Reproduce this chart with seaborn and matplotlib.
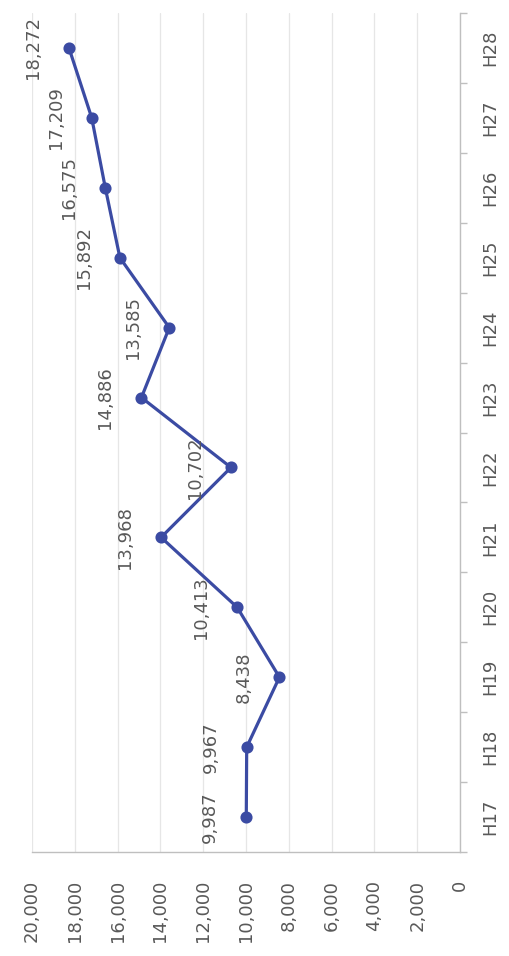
import numpy as np
import pandas as pd
import matplotlib
matplotlib.use("Agg")
import matplotlib.pyplot as plt
import seaborn as sns

years = ["H17", "H18", "H19", "H20", "H21", "H22", "H23", "H24", "H25", "H26", "H27", "H28"]
values = [9987, 9967, 8438, 10413, 13968, 10702, 14886, 13585, 15892, 16575, 17209, 18272]
value_ticks = list(range(0, 20001, 2000))

df = pd.DataFrame({"year": years, "value": values})

sns.set_theme(style="white")
plt.rcParams["font.family"] = ["DejaVu Sans"]

fig = plt.figure(figsize=(5.10, 9.56), dpi=100)
ax = fig.add_axes([32 / 510, 1 - 852 / 956, (460 - 32) / 510, (852 - 13) / 956])

line_col = "#3b4ba3"
order = years[::-1]
sns.pointplot(data=df, x="value", y="year", order=order, orient="h",
              color=line_col, markers="o", linestyles="-",
              markersize=7, linewidth=2.3, ax=ax)

txt_col = "#595959"
ax.set_xlim(20000, 0)
ax.set_ylim(len(years) - 0.5, -0.5)
ax.set_xticks(value_ticks, labels=[f"{t:,}" for t in value_ticks],
              rotation=90, rotation_mode="anchor", ha="right", va="center",
              fontsize=13, color=txt_col)
ax.grid(axis="x", color="#e6e6e6", linewidth=0.9)
ax.grid(axis="y", visible=False)
ax.set_axisbelow(True)

ax.tick_params(axis="x", length=0, pad=20)
ax.yaxis.tick_right()
ax.set_yticks(range(len(order)), labels=order, rotation=90, rotation_mode="anchor",
              ha="center", va="top", fontsize=13, color=txt_col)
ax.tick_params(axis="y", which="major", length=0, pad=15)
ax.set_yticks(np.arange(-0.5, len(years), 1), minor=True)
ax.tick_params(axis="y", which="minor", right=True, left=False, length=5, color="#bfbfbf", direction="out")

for s in ["top", "left"]:
    ax.spines[s].set_visible(False)
for s in ["right", "bottom"]:
    ax.spines[s].set_color("#bfbfbf")
    ax.spines[s].set_linewidth(1.0)

ax.set_xlabel("")
ax.set_ylabel("")

for yr, v in zip(years, values):
    pos = order.index(yr)
    ax.annotate(f"{v:,}", xy=(v, pos), xytext=(-36, 0), textcoords="offset pixels",
                ha="center", va="center", rotation=90, fontsize=13, color=txt_col)

fig.savefig("out.png", dpi=100, facecolor="white")
